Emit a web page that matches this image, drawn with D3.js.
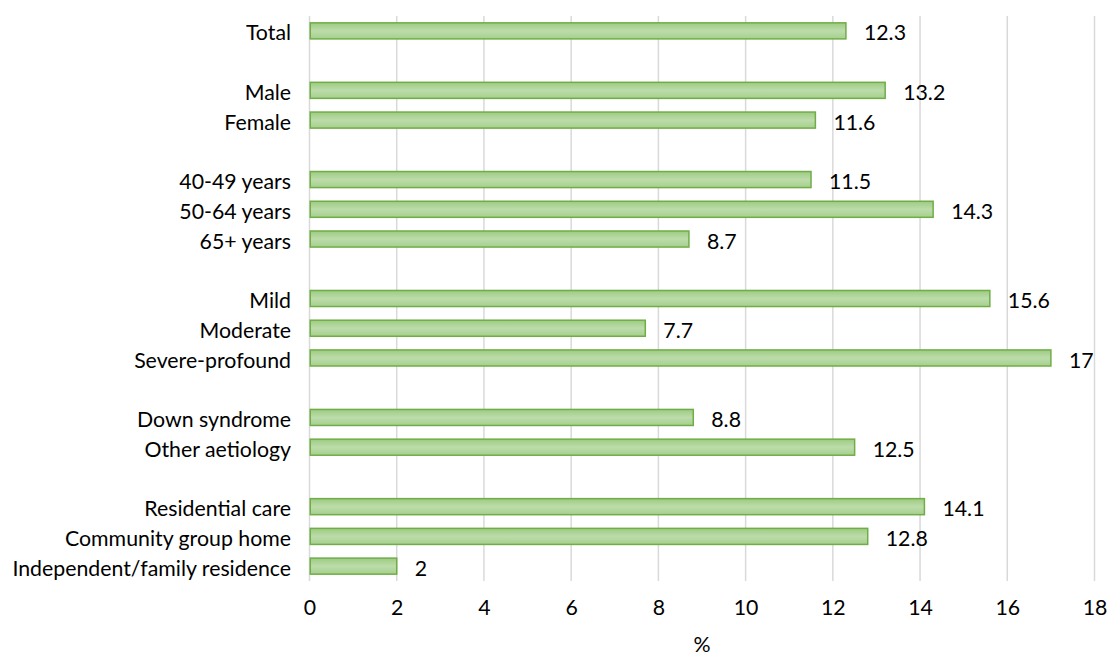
<!DOCTYPE html>
<html><head><meta charset="utf-8">
<script src="https://cdn.jsdelivr.net/npm/d3@7"></script>
<style>body{margin:0;background:#fff;} svg{display:block;}</style>
</head><body>
<script>
const categories = ["Total","gap1","Male","Female","gap2","40-49 years","50-64 years","65+ years","gap3","Mild","Moderate","Severe-profound","gap4","Down syndrome","Other aetiology","gap5","Residential care","Community group home","Independent/family residence"];
const values = [12.3,null,13.2,11.6,null,11.5,14.3,8.7,null,15.6,7.7,17,null,8.8,12.5,null,14.1,12.8,2];
const xTicks = [0,2,4,6,8,10,12,14,16,18];
const axisTitle = "%";

const W=1108,H=652;
const m={top:16,right:13.5,bottom:71,left:309.5};
const svg=d3.select("body").append("svg").attr("width",W).attr("height",H);
const font="Lato, 'Open Sans', sans-serif";
const fs=21.3;
const defs=svg.append("defs");
const g=defs.append("linearGradient").attr("id","bg").attr("x1",0).attr("y1",0).attr("x2",0).attr("y2",1);
g.append("stop").attr("offset","0").attr("stop-color","#9dcb82");
g.append("stop").attr("offset","0.5").attr("stop-color","#bcdcaa");
g.append("stop").attr("offset","1").attr("stop-color","#a6d08e");

const x=d3.scaleLinear().domain([0,18]).range([m.left,W-m.right]);
const y=d3.scaleBand().domain(categories).range([m.top,H-m.bottom]).paddingInner(0.46).paddingOuter(0.23);

svg.append("g").selectAll("line").data(xTicks).join("line")
 .attr("x1",d=>x(d)).attr("x2",d=>x(d)).attr("y1",m.top).attr("y2",H-m.bottom)
 .attr("stroke","#d9d9d9").attr("stroke-width",1.5);

const data=categories.map((c,i)=>({c,v:values[i]})).filter(d=>d.v!==null);

svg.append("g").selectAll("rect").data(data).join("rect")
 .attr("x",x(0)+0.75).attr("y",d=>y(d.c)).attr("width",d=>x(d.v)-x(0)-0.75).attr("height",y.bandwidth())
 .attr("fill","url(#bg)").attr("stroke","#70ad47").attr("stroke-width",1.5);

svg.append("g").selectAll("text").data(data).join("text")
 .attr("x",d=>x(d.v)+18).attr("y",d=>y(d.c)+y.bandwidth()/2).attr("dy","0.45em")
 .attr("font-family",font).attr("font-size",fs).attr("fill","#000").text(d=>d.v);

svg.append("g").selectAll("text").data(data).join("text")
 .attr("x",291).attr("y",d=>y(d.c)+y.bandwidth()/2).attr("dy","0.45em").attr("text-anchor","end")
 .attr("font-family",font).attr("font-size",fs).attr("fill","#000").text(d=>d.c);

const ax=d3.axisBottom(x).tickValues(xTicks).tickSize(0).tickPadding(19);
const axg=svg.append("g").attr("transform",`translate(0,${H-m.bottom})`).call(ax);
axg.select(".domain").remove();
axg.selectAll("text").attr("font-family",font).attr("font-size",fs).attr("fill","#000");

svg.append("text").attr("x",(x(0)+x(18))/2).attr("y",652).attr("text-anchor","middle")
 .attr("font-family",font).attr("font-size",fs).attr("fill","#000").text(axisTitle);
</script>
</body></html>
